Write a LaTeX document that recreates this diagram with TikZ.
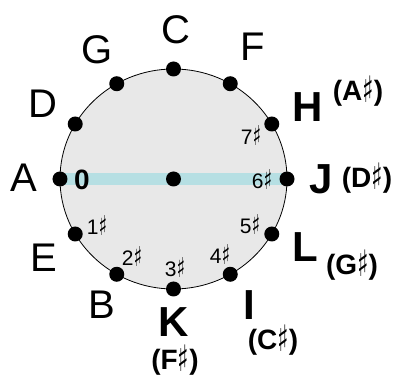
\documentclass[tikz,border=0pt]{standalone}
\usepackage{fontspec}
\setmainfont{Liberation Sans}
\newfontfamily\symfont{DejaVu Sans}
\usetikzlibrary{positioning}
\definecolor{face}{RGB}{232,232,232}
\definecolor{band}{RGB}{182,223,227}
\newcommand{\shp}{\raisebox{-0.08em}{\scalebox{0.85}[1.3]{\symfont\bfseries ♯}}}
\tikzset{
  dot/.style={circle, fill=black, inner sep=0pt, minimum size=15pt},
  note/.style={font=\fontsize{40}{40}\selectfont, inner sep=0pt},
  keyb/.style={font=\fontsize{42}{42}\selectfont\bfseries, inner sep=0pt},
  alt/.style={font=\fontsize{28}{28}\selectfont\bfseries, inner sep=0pt},
  cnt/.style={font=\fontsize{21}{21}\selectfont, inner sep=0pt},
}
\begin{document}
\begin{tikzpicture}[x=1pt, y=1pt]
  \useasboundingbox (-173.5,-200) rectangle (224.5,179);
  \filldraw[fill=face, draw=black, line width=0.8pt] (0,0) ellipse [x radius=113.5, y radius=110];
  \fill[band] (-113.5,-6) rectangle (113.5,6);
  \node[dot] (m) at (0,0) {};
  \foreach \a/\n in {90/c,60/f,30/h,0/j,-30/l,-60/i,-90/k,-120/b,-150/e,180/a,150/d,120/g}
    \node[dot] (\n) at ({113.5*cos(\a)},{110*sin(\a)}) {};
  % note names
  \node[note] (nc) at (2.5,149) {C};
  \node[note] (nf) at (79.5,132) {F};
  \node[note] (ng) at (-76.5,129) {G};
  \node[note] (nd) at (-130.5,75) {D};
  \node[note] (na) at (-149.5,1) {A};
  \node[note] (ne) at (-129.5,-79) {E};
  \node[note] (nb) at (-71.5,-126) {B};
  \node[keyb] (nh) at (134.5,72) {H};
  \node[keyb] (nj) at (147.5,0) {J};
  \node[keyb] (nl) at (131.5,-68) {L};
  \node[keyb] (ni) at (75.5,-126) {I};
  \node[keyb] (nk) at (0.5,-143) {K};
  \node[alt] (ah) at (184.5,88) {(A\shp)};
  \node[alt] (aj) at (193.5,1) {(D\shp)};
  \node[alt] (al) at (178.5,-86) {(G\shp)};
  \node[alt] (ai) at (99.5,-161) {(C\shp)};
  \node[alt] (ak) at (1.5,-181) {(F\shp)};
  % number of sharps
  \node[cnt, font=\fontsize{28}{28}\selectfont\bfseries] (s0) at (-91.5,-1) {0};
  \node[cnt] (s1) at (-76.5,-47) {1\shp};
  \node[cnt] (s2) at (-41.5,-78) {2\shp};
  \node[cnt] (s3) at (1.5,-89) {3\shp};
  \node[cnt] (s4) at (46.5,-76) {4\shp};
  \node[cnt] (s5) at (76.5,-46) {5\shp};
  \node[cnt] (s6) at (88.5,-1) {6\shp};
  \node[cnt] (s7) at (77.5,43) {7\shp};
\end{tikzpicture}
\end{document}
